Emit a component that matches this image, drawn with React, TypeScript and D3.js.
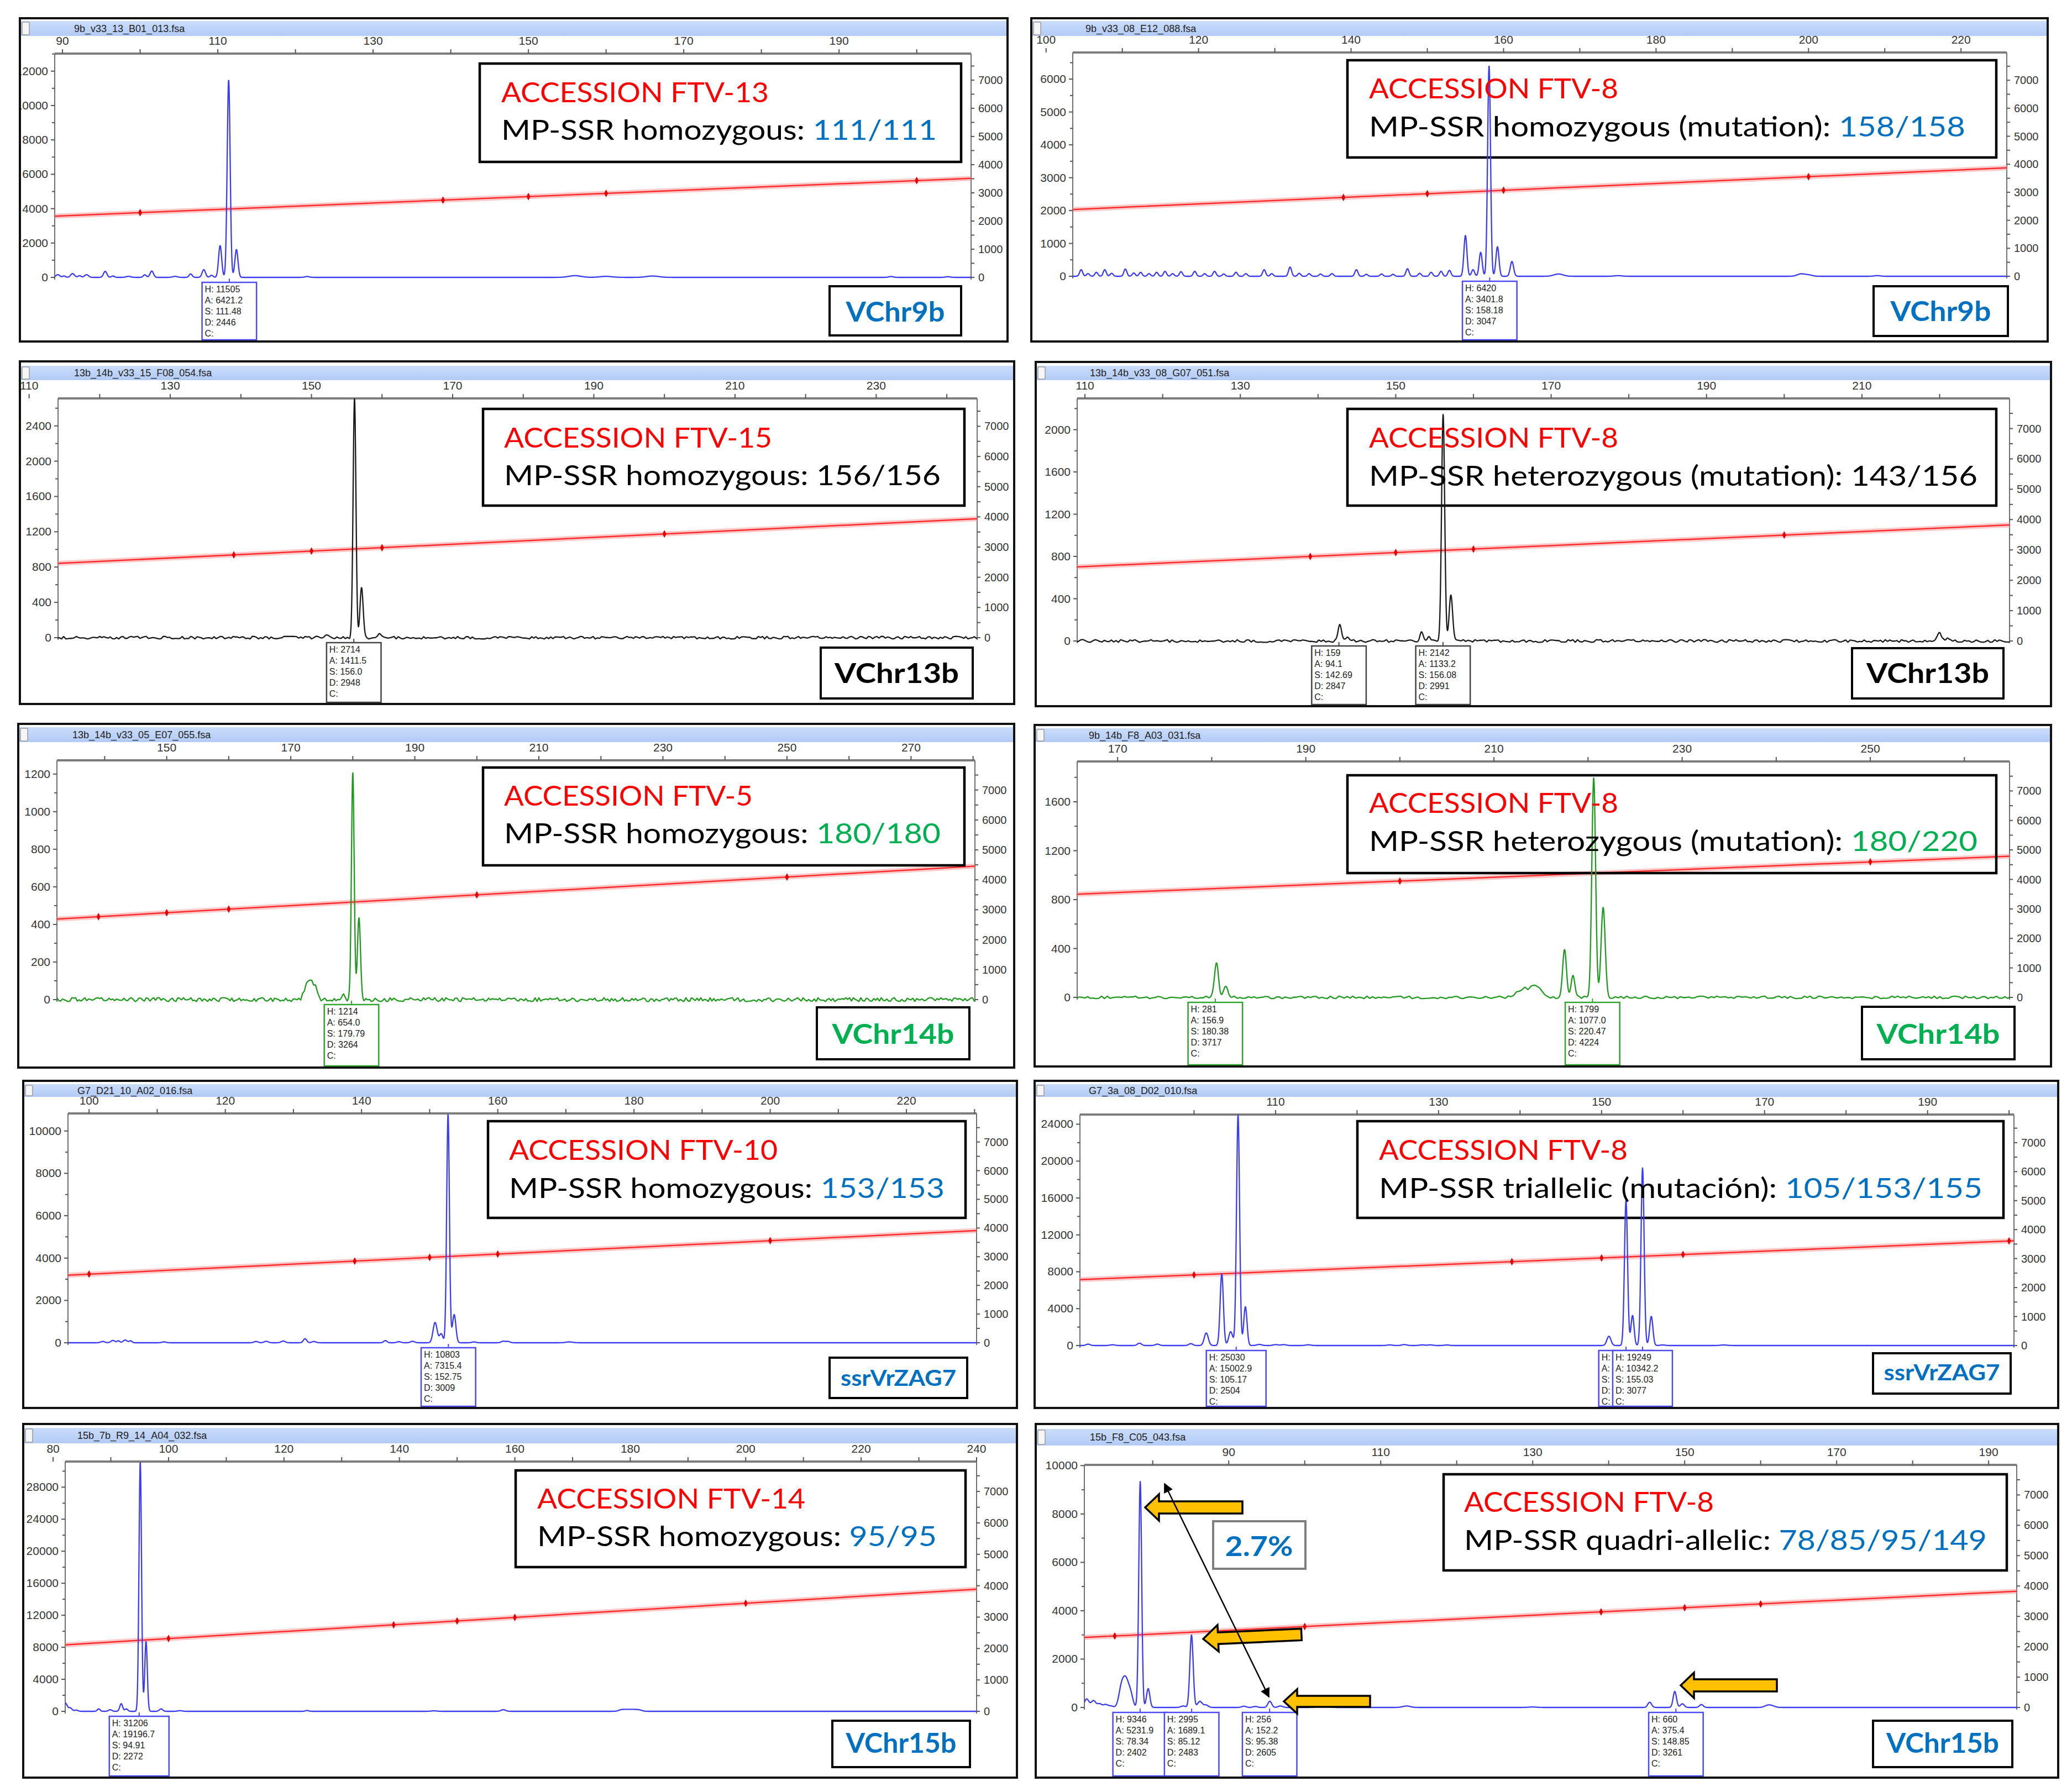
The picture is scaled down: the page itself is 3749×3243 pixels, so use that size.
import React from "react";
import * as d3 from "d3";

const W = 3749;
const H = 3243;

const BLUE_TRACE = "#3b3bf2";
const GREEN_TRACE = "#1f9a1f";
const BLACK_TRACE = "#1a1a1a";
const TXT_RED = "#ff0000";
const TXT_BLUE = "#0070c0";
const TXT_GREEN = "#00b050";
const AXIS_FONT = "'Liberation Sans', Arial, sans-serif";
const BOX_FONT = "Lato, 'Open Sans', 'Liberation Sans', sans-serif";

type Peak = [number, number, number];
type Call = { s: number; lines: string[] };

// ---------- data ----------
const SIZE_STANDARD = [35, 50, 75, 100, 139, 150, 160, 200, 250, 300, 340, 350];
const RIGHT_LABELS = [0, 1000, 2000, 3000, 4000, 5000, 6000, 7000];
const PI_TEXTURE =
  "1415926535897932384626433832795028841971693993751058209749445923078164062862089986280348253421170679821480865132823066470938446095505822317253594081284811174502841027019385211055596446229489549303819644288109756659334461284756482337867831652712019091456485669234603486104543266482133936072602491412737245870066063155881748815209209628292540917153643678925903600113305305488204665213841469519415116094330572703657595919530921861173819326117931051185480744623799627495673518857527248912279381830119491298336733624406566430860213949463952247371907021798609437027705392171762931767523846748184676694051320005681271452635608277857713427577896091736371787214684409012249534301465495853710507922796892589235420199561121290219608640344181598136297747713099605187072113499999983729780499510597317328160963185950244594553469083026425223082533446850352619311881710100031378387528865875332083814206171776691473035982534904287554687311595628638823537875937519577818577805321712268066130019278766111959092164201989";

const P1_LABELS = [90, 110, 130, 150, 170, 190];
const P1_PEAKS: Peak[] = [
  [89.4, 160, 0.25], [90.2, 80, 0.2], [91.3, 220, 0.25], [92.2, 100, 0.2], [93.1, 160, 0.25],
  [95.5, 350, 0.22], [96.5, 80, 0.2], [98.5, 60, 0.3], [100.6, 150, 0.2], [101.5, 370, 0.22],
  [104.5, 60, 0.3], [106.5, 200, 0.2], [108.2, 450, 0.22], [109.2, 120, 0.2],
  [110.3, 1850, 0.2], [111.4, 11505, 0.19], [112.4, 1620, 0.2],
  [121.5, 50, 0.3], [156, 100, 0.8], [160, 60, 0.8], [166, 80, 0.8], [196.7, 50, 0.3], [204, 40, 0.3],
];
const P1_CALLS: Call[] = [{ s: 111.48, lines: ["H: 11505", "A: 6421.2", "S: 111.48", "D: 2446", "C:"] }];

const P2_LABELS = [100, 120, 140, 160, 180, 200, 220];
const P2_PEAKS: Peak[] = [
  [104.6, 200, 0.2], [105.5, 80, 0.2], [106.6, 120, 0.2], [107.7, 200, 0.2], [108.6, 90, 0.2],
  [110.4, 220, 0.2], [111.5, 100, 0.2], [112.4, 120, 0.2], [113.5, 80, 0.2], [114.5, 120, 0.2],
  [115.6, 150, 0.2], [116.6, 80, 0.2], [117.7, 140, 0.2], [119.5, 150, 0.2], [120.8, 80, 0.2],
  [122.1, 150, 0.2], [123.3, 70, 0.2], [124.9, 120, 0.2], [126.2, 80, 0.2], [128.6, 200, 0.2],
  [129.6, 80, 0.2], [132.0, 280, 0.2], [133.2, 90, 0.2], [134.5, 80, 0.2], [136, 70, 0.2],
  [137.5, 80, 0.2], [140.7, 200, 0.2], [142, 60, 0.2], [144, 70, 0.2], [145.5, 60, 0.2],
  [147.4, 230, 0.2], [149, 90, 0.2], [150.5, 120, 0.2], [151.8, 150, 0.2], [152.9, 180, 0.2],
  [155.0, 1240, 0.2], [156.0, 200, 0.2], [157.0, 730, 0.2], [158.1, 6420, 0.19], [159.2, 900, 0.2],
  [161.1, 450, 0.22], [167.2, 70, 0.6], [175, 20, 0.5], [199, 70, 0.5], [200, 40, 0.5], [209, 20, 0.4],
];
const P2_CALLS: Call[] = [{ s: 158.18, lines: ["H: 6420", "A: 3401.8", "S: 158.18", "D: 3047", "C:"] }];

const P3_LABELS = [110, 130, 150, 170, 190, 210, 230];
const P3_PEAKS: Peak[] = [
  [152, 30, 0.3], [156.1, 2714, 0.2], [157.1, 563, 0.22], [159.7, 35, 0.3],
];
const P3_CALLS: Call[] = [{ s: 156.0, lines: ["H: 2714", "A: 1411.5", "S: 156.0", "D: 2948", "C:"] }];

const P4_LABELS = [110, 130, 150, 170, 190, 210];
const P4_PEAKS: Peak[] = [
  [142.8, 150, 0.25], [143.8, 30, 0.2], [153.3, 85, 0.2], [154.3, 40, 0.2],
  [156.1, 2142, 0.2], [157.1, 437, 0.22], [220, 85, 0.25], [221, 35, 0.2],
];
const P4_CALLS: Call[] = [
  { s: 142.69, lines: ["H: 159", "A: 94.1", "S: 142.69", "D: 2847", "C:"] },
  { s: 156.08, lines: ["H: 2142", "A: 1133.2", "S: 156.08", "D: 2991", "C:"] },
];

const P5_LABELS = [150, 170, 190, 210, 230, 250, 270];
const P5_PEAKS: Peak[] = [
  [172.6, 60, 0.5], [173.3, 70, 0.5], [174, 40, 0.4], [178.5, 20, 0.3],
  [180.0, 1214, 0.22], [181.0, 432, 0.25],
];
const P5_CALLS: Call[] = [{ s: 179.79, lines: ["H: 1214", "A: 654.0", "S: 179.79", "D: 3264", "C:"] }];

const P6_LABELS = [170, 190, 210, 230, 250];
const P6_PEAKS: Peak[] = [
  [180.5, 281, 0.22], [181.5, 100, 0.22], [212.5, 40, 0.4], [213.3, 70, 0.4], [214.3, 95, 0.4],
  [215, 50, 0.3], [217.5, 390, 0.2], [218.4, 170, 0.2], [220.6, 1799, 0.2], [221.6, 733, 0.22],
];
const P6_CALLS: Call[] = [
  { s: 180.38, lines: ["H: 281", "A: 156.9", "S: 180.38", "D: 3717", "C:"] },
  { s: 220.47, lines: ["H: 1799", "A: 1077.0", "S: 220.47", "D: 4224", "C:"] },
];

const P7_LABELS = [100, 120, 140, 160, 180, 200, 220];
const P7_PEAKS: Peak[] = [
  [102, 60, 0.3], [103.5, 110, 0.3], [104.3, 90, 0.2], [105.3, 130, 0.3], [106.1, 90, 0.2],
  [111, 40, 0.3], [124.5, 60, 0.3], [126, 70, 0.3], [128.5, 80, 0.3], [131.7, 190, 0.25],
  [133, 60, 0.3], [143.5, 100, 0.25], [145.5, 50, 0.3], [147.5, 70, 0.3],
  [150.8, 960, 0.3], [151.7, 420, 0.25], [152.7, 10803, 0.2], [153.6, 1330, 0.25],
  [156.5, 40, 0.3], [160.8, 70, 0.3], [161.5, 60, 0.3], [170.5, 40, 0.5],
];
const P7_CALLS: Call[] = [{ s: 152.75, lines: ["H: 10803", "A: 7315.4", "S: 152.75", "D: 3009", "C:"] }];

const P8_LABELS = [110, 130, 150, 170, 190];
const P8_PEAKS: Peak[] = [
  [87, 150, 0.25], [90, 80, 0.3], [93.3, 250, 0.25], [95.5, 150, 0.25], [99.6, 200, 0.25],
  [101.5, 1360, 0.25], [103.4, 7780, 0.2], [104.5, 1500, 0.25], [105.4, 25030, 0.19],
  [106.3, 4210, 0.2], [108, 120, 0.3], [110, 100, 0.3], [111, 100, 0.3], [114, 80, 0.3],
  [124, 70, 0.3], [125.8, 100, 0.3], [128, 70, 0.3], [129, 70, 0.3], [131, 60, 0.3],
  [150.9, 1000, 0.25], [153.0, 15750, 0.19], [153.8, 3260, 0.19], [155.03, 19249, 0.19],
  [156.1, 3165, 0.2], [157.5, 60, 0.3], [165, 60, 0.4],
];
const P8_CALLS: Call[] = [
  { s: 105.17, lines: ["H: 25030", "A: 15002.9", "S: 105.17", "D: 2504", "C:"] },
  { s: 153.0, lines: ["H:", "A:", "S:", "D:", "C:"] },
  { s: 155.03, lines: ["H: 19249", "A: 10342.2", "S: 155.03", "D: 3077", "C:"] },
];

const P9_LABELS = [80, 100, 120, 140, 160, 180, 200, 220, 240];
const P9_PEAKS: Peak[] = [
  [82.1, 1040, 0.35], [83, 400, 0.3], [84, 150, 0.3], [87.9, 300, 0.25], [89.9, 200, 0.3],
  [91.8, 950, 0.25], [92.7, 300, 0.25], [95.1, 31206, 0.22], [96.1, 8740, 0.22],
  [98.7, 300, 0.3], [102, 80, 0.4], [124, 100, 0.3], [146, 60, 0.5], [158, 200, 0.4],
  [178.5, 200, 0.5], [179.5, 200, 0.5], [180.5, 200, 0.5], [181.5, 180, 0.5],
];
const P9_CALLS: Call[] = [{ s: 94.91, lines: ["H: 31206", "A: 19196.7", "S: 94.91", "D: 2272", "C:"] }];

const P10_LABELS = [90, 110, 130, 150, 170, 190];
const P10_PEAKS: Peak[] = [
  [71.3, 350, 0.3], [72.2, 280, 0.3], [73, 150, 0.3], [73.8, 120, 0.3], [74.5, 60, 0.3],
  [75.9, 850, 0.35], [76.5, 1000, 0.35], [77.1, 500, 0.3], [78.35, 9346, 0.19], [79.4, 780, 0.22],
  [84, 60, 0.3], [85.1, 2995, 0.22], [86.2, 250, 0.3], [87, 100, 0.3], [92, 50, 0.3],
  [93.5, 40, 0.3], [95.4, 256, 0.25], [96.8, 60, 0.3], [101.9, 60, 0.4], [103, 40, 0.4],
  [113.4, 60, 0.5], [130, 20, 0.5], [145.4, 215, 0.25], [148.7, 660, 0.22], [149.7, 150, 0.25],
  [152.2, 120, 0.25], [160.9, 80, 0.4], [161.5, 60, 0.4],
];
const P10_CALLS: Call[] = [
  { s: 78.34, lines: ["H: 9346", "A: 5231.9", "S: 78.34", "D: 2402", "C:"] },
  { s: 85.12, lines: ["H: 2995", "A: 1689.1", "S: 85.12", "D: 2483", "C:"] },
  { s: 95.38, lines: ["H: 256", "A: 152.2", "S: 95.38", "D: 2605", "C:"] },
  { s: 148.85, lines: ["H: 660", "A: 375.4", "S: 148.85", "D: 3261", "C:"] },
];

// ---------- layout ----------
type Box4 = [number, number, number, number];
interface Panel {
  file: string;
  frame: Box4;
  titleBar: [number, number];
  plot: Box4; // L, T, R, B
  domain: [number, number];
  tickStart: number;
  labels: number[];
  yMax: number;
  yStep: number;
  rightMax: number;
  sizing: [number, number];
  trace: string;
  boxStroke: string;
  peaks: Peak[];
  noise: number;
  calls: Call[];
  info: { box: Box4; x: number; b1: number; w1: number; b2: number; w2: number };
  accession: string;
  prefix: string;
  alleles: string;
  alleleColor: string;
  marker: { box: Box4; text: string; color: string; w: number; base: number; fs: number };
}

const PANELS: Panel[] = [
  {
    file: "9b_v33_13_B01_013.fsa", frame: [36, 33, 1823, 618], titleBar: [38, 65],
    plot: [99, 97, 1757, 502], domain: [89, 207], tickStart: 90, labels: P1_LABELS,
    yMax: 13020, yStep: 2000, rightMax: 7940, sizing: [2172, 3514], trace: BLUE_TRACE, boxStroke: "#4a4af0",
    peaks: P1_PEAKS, noise: 0, calls: P1_CALLS,
    info: { box: [868, 115, 1739, 293], x: 907, b1: 185, w1: 484, b2: 253, w2: 788 },
    accession: "ACCESSION FTV-13", prefix: "MP-SSR homozygous: ", alleles: "111/111", alleleColor: TXT_BLUE,
    marker: { box: [1501, 518, 1739, 607], text: "VChr9b", color: TXT_BLUE, w: 179, base: 582, fs: 50 },
  },
  {
    file: "9b_v33_08_E12_088.fsa", frame: [1866, 33, 3705, 618], titleBar: [38, 65],
    plot: [1941, 95, 3631, 500], domain: [103.5, 226], tickStart: 100, labels: P2_LABELS,
    yMax: 6810, yStep: 1000, rightMax: 7990, sizing: [2384, 3872], trace: BLUE_TRACE, boxStroke: "#4a4af0",
    peaks: P2_PEAKS, noise: 0, calls: P2_CALLS,
    info: { box: [2438, 109, 3612, 285], x: 2477, b1: 178, w1: 451, b2: 247, w2: 1079 },
    accession: "ACCESSION FTV-8", prefix: "MP-SSR homozygous (mutation): ", alleles: "158/158", alleleColor: TXT_BLUE,
    marker: { box: [3390, 518, 3633, 608], text: "VChr9b", color: TXT_BLUE, w: 182, base: 581, fs: 50 },
  },
  {
    file: "13b_14b_v33_15_F08_054.fsa", frame: [36, 654, 1835, 1274], titleBar: [662, 688],
    plot: [105, 721, 1768, 1154], domain: [114.1, 244.3], tickStart: 110, labels: P3_LABELS,
    yMax: 2711, yStep: 400, rightMax: 7923, sizing: [2459, 3937], trace: BLACK_TRACE, boxStroke: "#444",
    peaks: P3_PEAKS, noise: 14, calls: P3_CALLS,
    info: { box: [874, 740, 1745, 915], x: 912, b1: 810, w1: 485, b2: 878, w2: 790 },
    accession: "ACCESSION FTV-15", prefix: "MP-SSR homozygous: ", alleles: "156/156", alleleColor: "#000",
    marker: { box: [1485, 1172, 1760, 1264], text: "VChr13b", color: "#000", w: 225, base: 1236, fs: 50 },
  },
  {
    file: "13b_14b_v33_08_G07_051.fsa", frame: [1874, 655, 3711, 1278], titleBar: [662, 688],
    plot: [1949, 721, 3636, 1160], domain: [109, 229], tickStart: 110, labels: P4_LABELS,
    yMax: 2296, yStep: 400, rightMax: 7993, sizing: [2441, 3824], trace: BLACK_TRACE, boxStroke: "#444",
    peaks: P4_PEAKS, noise: 12, calls: P4_CALLS,
    info: { box: [2438, 740, 3612, 915], x: 2477, b1: 810, w1: 451, b2: 879, w2: 1101 },
    accession: "ACCESSION FTV-8", prefix: "MP-SSR heterozygous (mutation): ", alleles: "143/156", alleleColor: "#000",
    marker: { box: [3351, 1173, 3625, 1264], text: "VChr13b", color: "#000", w: 222, base: 1236, fs: 50 },
  },
  {
    file: "13b_14b_v33_05_E07_055.fsa", frame: [33, 1310, 1835, 1932], titleBar: [1316, 1343],
    plot: [103, 1376, 1764, 1809], domain: [132.3, 280.3], tickStart: 140, labels: P5_LABELS,
    yMax: 1273, yStep: 200, rightMax: 7990, sizing: [2689, 4455], trace: GREEN_TRACE, boxStroke: "#2fa52f",
    peaks: P5_PEAKS, noise: 10, calls: P5_CALLS,
    info: { box: [874, 1389, 1745, 1566], x: 912, b1: 1458, w1: 450, b2: 1526, w2: 790 },
    accession: "ACCESSION FTV-5", prefix: "MP-SSR homozygous: ", alleles: "180/180", alleleColor: TXT_GREEN,
    marker: { box: [1478, 1823, 1754, 1917], text: "VChr14b", color: TXT_GREEN, w: 221, base: 1889, fs: 50 },
  },
  {
    file: "9b_14b_F8_A03_031.fsa", frame: [1872, 1312, 3711, 1930], titleBar: [1318, 1343],
    plot: [1949, 1378, 3636, 1805], domain: [165.7, 264.8], tickStart: 170, labels: P6_LABELS,
    yMax: 1930, yStep: 400, rightMax: 8000, sizing: [3500, 4785], trace: GREEN_TRACE, boxStroke: "#2fa52f",
    peaks: P6_PEAKS, noise: 10, calls: P6_CALLS,
    info: { box: [2438, 1403, 3612, 1580], x: 2477, b1: 1471, w1: 451, b2: 1540, w2: 1101 },
    accession: "ACCESSION FTV-8", prefix: "MP-SSR heterozygous (mutation): ", alleles: "180/220", alleleColor: TXT_GREEN,
    marker: { box: [3369, 1822, 3645, 1917], text: "VChr14b", color: TXT_GREEN, w: 223, base: 1889, fs: 50 },
  },
  {
    file: "G7_D21_10_A02_016.fsa", frame: [42, 1956, 1840, 2548], titleBar: [1962, 1985],
    plot: [123, 2015, 1767, 2430], domain: [96.9, 230.3], tickStart: 100, labels: P7_LABELS,
    yMax: 10829, yStep: 2000, rightMax: 7995, sizing: [2357, 3910], trace: BLUE_TRACE, boxStroke: "#4a4af0",
    peaks: P7_PEAKS, noise: 0, calls: P7_CALLS,
    info: { box: [883, 2029, 1747, 2204], x: 921, b1: 2099, w1: 486, b2: 2168, w2: 788 },
    accession: "ACCESSION FTV-10", prefix: "MP-SSR homozygous: ", alleles: "153/153", alleleColor: TXT_BLUE,
    marker: { box: [1501, 2457, 1750, 2530], text: "ssrVrZAG7", color: TXT_BLUE, w: 209, base: 2508, fs: 40 },
  },
  {
    file: "G7_3a_08_D02_010.fsa", frame: [1872, 1956, 3724, 2548], titleBar: [1962, 1985],
    plot: [1954, 2017, 3644, 2435], domain: [86, 200.6], tickStart: 100, labels: P8_LABELS,
    yMax: 25048, yStep: 4000, rightMax: 7970, sizing: [2273, 3614], trace: BLUE_TRACE, boxStroke: "#4a4af0",
    peaks: P8_PEAKS, noise: 0, calls: P8_CALLS,
    info: { box: [2456, 2029, 3625, 2204], x: 2495, b1: 2099, w1: 450, b2: 2168, w2: 1092 },
    accession: "ACCESSION FTV-8", prefix: "MP-SSR triallelic (mutación): ", alleles: "105/153/155", alleleColor: TXT_BLUE,
    marker: { box: [3389, 2449, 3638, 2522], text: "ssrVrZAG7", color: TXT_BLUE, w: 210, base: 2498, fs: 40 },
  },
  {
    file: "15b_7b_R9_14_A04_032.fsa", frame: [42, 2577, 1840, 3217], titleBar: [2584, 2612],
    plot: [118, 2645, 1767, 3097], domain: [82.1, 240], tickStart: 80, labels: P9_LABELS,
    yMax: 31200, yStep: 4000, rightMax: 7953, sizing: [2115, 3890], trace: BLUE_TRACE, boxStroke: "#4a4af0",
    peaks: P9_PEAKS, noise: 0, calls: P9_CALLS,
    info: { box: [933, 2661, 1747, 2836], x: 972, b1: 2730, w1: 485, b2: 2798, w2: 723 },
    accession: "ACCESSION FTV-14", prefix: "MP-SSR homozygous: ", alleles: "95/95", alleleColor: TXT_BLUE,
    marker: { box: [1506, 3114, 1755, 3198], text: "VChr15b", color: TXT_BLUE, w: 200, base: 3172, fs: 50 },
  },
  {
    file: "15b_F8_C05_043.fsa", frame: [1874, 2577, 3724, 3217], titleBar: [2586, 2616],
    plot: [1962, 2651, 3649, 3090], domain: [71, 193.7], tickStart: 80, labels: P10_LABELS,
    yMax: 10030, yStep: 2000, rightMax: 7990, sizing: [2305, 3828], trace: BLUE_TRACE, boxStroke: "#4a4af0",
    peaks: P10_PEAKS, noise: 0, calls: P10_CALLS,
    info: { box: [2612, 2668, 3631, 2842], x: 2649, b1: 2736, w1: 452, b2: 2805, w2: 946 },
    accession: "ACCESSION FTV-8", prefix: "MP-SSR quadri-allelic: ", alleles: "78/85/95/149", alleleColor: TXT_BLUE,
    marker: { box: [3389, 3114, 3641, 3198], text: "VChr15b", color: TXT_BLUE, w: 204, base: 3172, fs: 50 },
  },
];

// ---------- helpers ----------
function textureAt(bp: number, offset: number): number {
  const spacing = 0.3;
  const t = bp / spacing;
  const i0 = Math.floor(t);
  const f = t - i0;
  const n = PI_TEXTURE.length;
  const d0 = +PI_TEXTURE[(((i0 + offset) % n) + n) % n];
  const d1 = +PI_TEXTURE[(((i0 + 1 + offset) % n) + n) % n];
  return ((d0 * (1 - f) + d1 * f) - 4.5) / 4.5;
}

function buildTrace(p: Panel, idx: number, pxWidth: number): [number, number][] {
  const [d0, d1] = p.domain;
  const step = (d1 - d0) / (pxWidth * 2);
  const pts: [number, number][] = [];
  for (let bp = d0; bp <= d1 + 1e-9; bp += step) {
    let v = 0;
    for (const [c, h, s] of p.peaks) {
      const z = (bp - c) / s;
      if (z > -7 && z < 7) v += h * Math.exp(-0.5 * z * z);
    }
    if (p.noise) v += p.noise * textureAt(bp, idx * 137);
    pts.push([bp, v]);
  }
  return pts;
}

function PanelView({ p, idx }: { p: Panel; idx: number }) {
  const [fx0, fy0, fx1, fy1] = p.frame;
  const [L, T, R, B] = p.plot;
  const x = d3.scaleLinear().domain(p.domain).range([L, R]);
  const y = d3.scaleLinear().domain([0, p.yMax]).range([B, T]);
  const yr = d3.scaleLinear().domain([0, p.rightMax]).range([B, T]);
  const sizingLine = d3.scaleLinear().domain(p.domain).range(p.sizing);
  const pts = buildTrace(p, idx, R - L);
  const line = d3
    .line<[number, number]>()
    .x((d) => x(d[0]))
    .y((d) => y(d[1]));
  const xTicks = d3.range(p.tickStart, p.domain[1] + 0.001, 10).filter((v) => x(v) > fx0 + 6);
  const yTicks = d3.range(0, p.yMax + 1e-6, p.yStep / 2);
  const rTicks = d3.range(0, p.rightMax, 500);
  const dots = SIZE_STANDARD.filter((s) => s > p.domain[0] && s < p.domain[1]);
  const clipPanel = `clip-panel-${idx}`;
  const clipPlot = `clip-plot-${idx}`;
  const ib = p.info.box;
  const mb = p.marker.box;

  return (
    <g>
      <defs>
        <clipPath id={clipPanel}>
          <rect x={fx0} y={fy0} width={fx1 - fx0} height={fy1 - fy0} />
        </clipPath>
        <clipPath id={clipPlot}>
          <rect x={L} y={T} width={R - L} height={B - T + 14} />
        </clipPath>
      </defs>
      <rect x={fx0} y={fy0} width={fx1 - fx0} height={fy1 - fy0} fill="#fff" />
      <g clipPath={`url(#${clipPanel})`}>
        {/* title bar */}
        <rect x={fx0} y={p.titleBar[0]} width={fx1 - fx0} height={p.titleBar[1] - p.titleBar[0]} fill="url(#titleGrad)" />
        <rect x={fx0 + 4} y={p.titleBar[0] + 2} width={13} height={p.titleBar[1] - p.titleBar[0] - 4} rx={2} fill="#f6f6f6" stroke="#9a9a9a" strokeWidth={1.5} />
        <text x={fx0 + 98} y={(p.titleBar[0] + p.titleBar[1]) / 2 + 6} fontFamily={AXIS_FONT} fontSize={18} fill="#222">
          {p.file}
        </text>

        {/* top axis */}
        <line x1={L} x2={R} y1={T} y2={T} stroke="#7d7d7d" strokeWidth={4} />
        {xTicks.map((v) => (
          <line key={`xt${v}`} x1={x(v)} x2={x(v)} y1={T - 8} y2={T} stroke="#555" strokeWidth={2} />
        ))}
        {p.labels.map((v) => (
          <text key={`xl${v}`} x={x(v)} y={T - 16} textAnchor="middle" fontFamily={AXIS_FONT} fontSize={21} fill="#333">
            {v}
          </text>
        ))}

        {/* left axis */}
        <line x1={L} x2={L} y1={T} y2={B + 4} stroke="#707070" strokeWidth={2} />
        {yTicks.map((v, k) => (
          <line key={`yt${v}`} x1={L - (k % 2 === 0 ? 7 : 5)} x2={L} y1={y(v)} y2={y(v)} stroke="#555" strokeWidth={2} />
        ))}
        {yTicks
          .filter((_, k) => k % 2 === 0)
          .map((v) => (
            <text key={`yl${v}`} x={L - 12} y={y(v) + 7} textAnchor="end" fontFamily={AXIS_FONT} fontSize={21} fill="#333">
              {v}
            </text>
          ))}

        {/* right axis */}
        <line x1={R} x2={R} y1={T} y2={B + 4} stroke="#707070" strokeWidth={2} />
        {rTicks.map((v) => (
          <line key={`rt${v}`} x1={R} x2={R + 6} y1={yr(v)} y2={yr(v)} stroke="#555" strokeWidth={2} />
        ))}
        {RIGHT_LABELS.map((v) => (
          <text key={`rl${v}`} x={R + 13} y={yr(v) + 7} fontFamily={AXIS_FONT} fontSize={20} fill="#333">
            {v}
          </text>
        ))}

        {/* size-standard line */}
        <line x1={L} x2={R} y1={yr(p.sizing[0])} y2={yr(p.sizing[1])} stroke="#ff9a9a" strokeWidth={9} strokeOpacity={0.55} />
        <line x1={L} x2={R} y1={yr(p.sizing[0])} y2={yr(p.sizing[1])} stroke="#ff2b2b" strokeWidth={2.5} />
        {dots.map((s) => {
          const cx = x(s);
          const cy = yr(sizingLine(s));
          return <path key={`d${s}`} d={`M${cx},${cy - 7} L${cx + 3.5},${cy} L${cx},${cy + 7} L${cx - 3.5},${cy} Z`} fill="#e00000" />;
        })}

        {/* info box */}
        <rect x={ib[0]} y={ib[1]} width={ib[2] - ib[0]} height={ib[3] - ib[1]} fill="none" stroke="#000" strokeWidth={4.5} />

        {/* trace */}
        <path d={line(pts) || ""} fill="none" stroke={p.trace} strokeWidth={2.3} strokeLinejoin="round" clipPath={`url(#${clipPlot})`} />

        {/* info text */}
        <text x={p.info.x} y={p.info.b1} fontFamily={BOX_FONT} fontSize={50} fill={TXT_RED} textLength={p.info.w1} lengthAdjust="spacingAndGlyphs">
          {p.accession}
        </text>
        <text x={p.info.x} y={p.info.b2} fontFamily={BOX_FONT} fontSize={50} fill="#000" textLength={p.info.w2} lengthAdjust="spacingAndGlyphs" style={{ whiteSpace: "pre" }}>
          <tspan fill="#000">{p.prefix}</tspan>
          <tspan fill={p.alleleColor}>{p.alleles}</tspan>
        </text>

        {/* peak call boxes */}
        {p.calls.map((c, k) => {
          const maxLen = d3.max(c.lines, (s) => s.length) || 5;
          const bw = 14 + 9.4 * Math.max(maxLen, 9);
          const cx = x(c.s);
          const top = B + 9;
          const bottom = fy1 - 3;
          return (
            <g key={`c${k}`}>
              <line x1={cx} x2={cx} y1={B + 2} y2={top} stroke={p.boxStroke} strokeWidth={2} />
              <rect x={cx - bw / 2} y={top} width={bw} height={bottom - top} fill="#fff" stroke={p.boxStroke} strokeWidth={2.5} />
              {c.lines.map((t, j) => (
                <text key={j} x={cx - bw / 2 + 5} y={top + 18 + j * 20} fontFamily={AXIS_FONT} fontSize={16} fill="#222">
                  {t}
                </text>
              ))}
            </g>
          );
        })}

        {/* marker box */}
        <rect x={mb[0]} y={mb[1]} width={mb[2] - mb[0]} height={mb[3] - mb[1]} fill="#fff" stroke="#000" strokeWidth={4} />
        <text
          x={(mb[0] + mb[2]) / 2}
          y={p.marker.base}
          textAnchor="middle"
          fontFamily={BOX_FONT}
          fontWeight={700}
          fontSize={p.marker.fs}
          fill={p.marker.color}
          textLength={p.marker.w}
          lengthAdjust="spacingAndGlyphs"
        >
          {p.marker.text}
        </text>
      </g>
      <rect x={fx0} y={fy0} width={fx1 - fx0} height={fy1 - fy0} fill="none" stroke="#111" strokeWidth={4} />
    </g>
  );
}

type BlockArrow = { tip: [number, number]; tail: number; shaft: number; head: number; headLen: number; rot: number };
const YELLOW_ARROWS: BlockArrow[] = [
  { tip: [2072, 2728], tail: 2248, shaft: 11, head: 24, headLen: 25, rot: 0 },
  { tip: [2177, 2966], tail: 2355, shaft: 10.5, head: 24, headLen: 27, rot: -2.6 },
  { tip: [2323, 3079], tail: 2479, shaft: 10, head: 22, headLen: 24, rot: 0 },
  { tip: [3041, 3050], tail: 3215, shaft: 11, head: 23, headLen: 24, rot: 0 },
];

function arrowPath(a: BlockArrow): string {
  const [tx, ty] = a.tip;
  const hx = tx + a.headLen;
  return `M${tx},${ty} L${hx},${ty - a.head} L${hx},${ty - a.shaft} L${a.tail},${ty - a.shaft} L${a.tail},${ty + a.shaft} L${hx},${ty + a.shaft} L${hx},${ty + a.head} Z`;
}

function Annotations() {
  return (
    <g>
      {YELLOW_ARROWS.map((a, k) => (
        <path
          key={k}
          d={arrowPath(a)}
          fill="#ffc000"
          stroke="#000"
          strokeWidth={3.5}
          strokeLinejoin="miter"
          transform={`rotate(${a.rot} ${a.tip[0]} ${a.tip[1]})`}
        />
      ))}
      <line x1={2107} y1={2685} x2={2296} y2={3071} stroke="#000" strokeWidth={2.5} markerStart="url(#blackHead)" markerEnd="url(#blackHead)" />
      <rect x={2195} y={2753} width={167} height={86} fill="#fff" stroke="#7f7f7f" strokeWidth={4} />
      <text x={2278} y={2816} textAnchor="middle" fontFamily={BOX_FONT} fontWeight={700} fontSize={50} fill={TXT_BLUE} textLength={123} lengthAdjust="spacingAndGlyphs">
        2.7%
      </text>
    </g>
  );
}

export default function App() {
  return (
    <svg width={W} height={H} viewBox={`0 0 ${W} ${H}`} style={{ position: "absolute", left: 0, top: 0, display: "block" }}>
      <defs>
        <linearGradient id="titleGrad" x1="0" y1="0" x2="0" y2="1">
          <stop offset="0" stopColor="#cadcfb" />
          <stop offset="1" stopColor="#b2cbf5" />
        </linearGradient>
        <marker id="blackHead" viewBox="0 0 10 10" refX="9" refY="5" markerWidth="9" markerHeight="7" markerUnits="strokeWidth" orient="auto-start-reverse">
          <path d="M0,0 L10,5 L0,10 Z" fill="#000" />
        </marker>
      </defs>
      <rect x={0} y={0} width={W} height={H} fill="#fff" />
      {PANELS.map((p, i) => (
        <PanelView key={i} p={p} idx={i} />
      ))}
      <Annotations />
    </svg>
  );
}
